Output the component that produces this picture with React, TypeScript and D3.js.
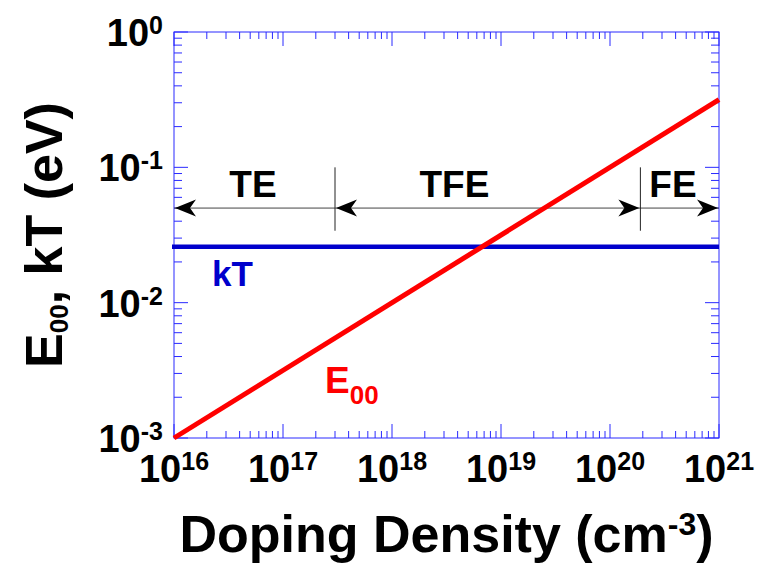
import * as d3 from "d3";

// chart data
const dopingDomain = [1e16, 1e21];
const energyDomain = [1e-3, 1];
const kTValue = 0.0259;
const e00Doping = [1e16, 1e21];
const e00Energy = [0.001, 0.316];
const regimeBounds = [3e17, 1.9e20];
const regimeLabels = ["TE", "TFE", "FE"];
const regimeLabelDoping = [5.3e16, 3.74e18, 3.78e20];
const xTickExp = ["16", "17", "18", "19", "20", "21"];
const yTickExp = ["0", "-1", "-2", "-3"];

const W = 769;
const H = 570;
const margin = { top: 32, right: 50, bottom: 132, left: 174 };
const FONT = "'Liberation Sans', Arial, sans-serif";
const AXIS = "#2a2aff";

// arrow annotation levels (eV)
const arrowLevel = 0.05;
const sepTop = 0.1;
const sepBottom = 0.034;
const regimeLabelLevel = 0.06;

const Arrowhead = ({ x, y, dir }: { x: number; y: number; dir: number }) => (
  <path
    d="M0,0 L-21,-8.5 L-15,0 L-21,8.5 Z"
    transform={`translate(${x},${y}) scale(${dir},1)`}
    fill="#000"
  />
);

export default function App() {
  const x = d3.scaleLog().domain(dopingDomain).range([margin.left, W - margin.right]);
  const y = d3.scaleLog().domain(energyDomain).range([H - margin.bottom, margin.top]);
  const [x0, x1] = x.range();
  const [y0, y1] = y.range();

  const xTicks = x.ticks();
  const yTicks = y.ticks();
  const isMajor = (v: number) => Math.abs(Math.log10(v) - Math.round(Math.log10(v))) < 1e-9;

  const e00Line = d3
    .line<number>()
    .x((d) => x(d))
    .y((_, i) => y(e00Energy[i]));

  const ay = y(arrowLevel);
  const b0 = x(regimeBounds[0]);
  const b1 = x(regimeBounds[1]);

  return (
    <svg
      width={W}
      height={H}
      style={{ position: "absolute", left: 0, top: 0, background: "#fff" }}
      fontFamily={FONT}
      fontWeight="bold"
    >
      {/* frame */}
      <rect x={x0} y={y1} width={x1 - x0} height={y0 - y1} fill="none" stroke={AXIS} strokeWidth={1} />

      {/* x ticks, top and bottom, inward */}
      {xTicks.map((t, i) => {
        const len = isMajor(t) ? 14 : 7;
        const px = x(t);
        return (
          <g key={"xt" + i} stroke={AXIS} strokeWidth={1}>
            <line x1={px} x2={px} y1={y0} y2={y0 - len} />
            <line x1={px} x2={px} y1={y1} y2={y1 + len} />
          </g>
        );
      })}
      {/* y ticks, left and right, inward */}
      {yTicks.map((t, i) => {
        const len = isMajor(t) ? 14 : 8;
        const py = y(t);
        return (
          <g key={"yt" + i} stroke={AXIS} strokeWidth={1}>
            <line x1={x0} x2={x0 + len} y1={py} y2={py} />
            <line x1={x1} x2={x1 - len} y1={py} y2={py} />
          </g>
        );
      })}

      {/* x tick labels */}
      {xTickExp.map((e) => (
        <text key={"xl" + e} x={x(Math.pow(10, +e))} y={482} textAnchor="middle" fontSize={38}>
          10
          <tspan dy={-12} fontSize={25}>{e}</tspan>
        </text>
      ))}
      {/* y tick labels */}
      {yTickExp.map((e) => (
        <text key={"yl" + e} x={163} y={y(Math.pow(10, +e)) + 14} textAnchor="end" fontSize={38}>
          10
          <tspan dy={-12} fontSize={25}>{e}</tspan>
        </text>
      ))}

      {/* axis titles */}
      <text x={(x0 + x1) / 2} y={552} textAnchor="middle" fontSize={52}>
        Doping Density (cm
        <tspan dy={-17} fontSize={32}>-3</tspan>
        <tspan dy={17}>)</tspan>
      </text>
      <text transform={`translate(62,${(y0 + y1) / 2}) rotate(-90)`} textAnchor="middle" fontSize={52}>
        E<tspan dy={6} fontSize={26}>00</tspan>
        <tspan dy={-6}>, kT (eV)</tspan>
      </text>

      {/* regime arrows */}
      <g stroke="#444" strokeWidth={1}>
        <line x1={x0} x2={x1} y1={ay} y2={ay} />
        <line x1={b0} x2={b0} y1={y(sepTop)} y2={y(sepBottom)} stroke="#222" />
        <line x1={b1} x2={b1} y1={y(sepTop)} y2={y(sepBottom)} stroke="#222" />
      </g>
      <Arrowhead x={x0 + 1} y={ay} dir={-1} />
      <Arrowhead x={b0 + 1} y={ay} dir={-1} />
      <Arrowhead x={b1 - 1} y={ay} dir={1} />
      <Arrowhead x={x1 - 1} y={ay} dir={1} />
      {regimeLabels.map((l, i) => (
        <text key={l} x={x(regimeLabelDoping[i])} y={y(regimeLabelLevel)} textAnchor="middle" fontSize={37}>
          {l}
        </text>
      ))}

      {/* kT line */}
      <line x1={x0 - 2} x2={x1} y1={y(kTValue)} y2={y(kTValue)} stroke="#0000cc" strokeWidth={4.5} />
      <text x={x(2.23e16)} y={y(0.01327)} fontSize={35} fill="#0000cc">
        kT
      </text>

      {/* E00 line */}
      <path d={e00Line(e00Doping) || ""} fill="none" stroke="#ff0000" strokeWidth={5} />
      <text x={x(2.43e17)} y={y(0.00215)} fontSize={37} fill="#ff0000">
        E<tspan dy={11} fontSize={26}>00</tspan>
      </text>
    </svg>
  );
}
